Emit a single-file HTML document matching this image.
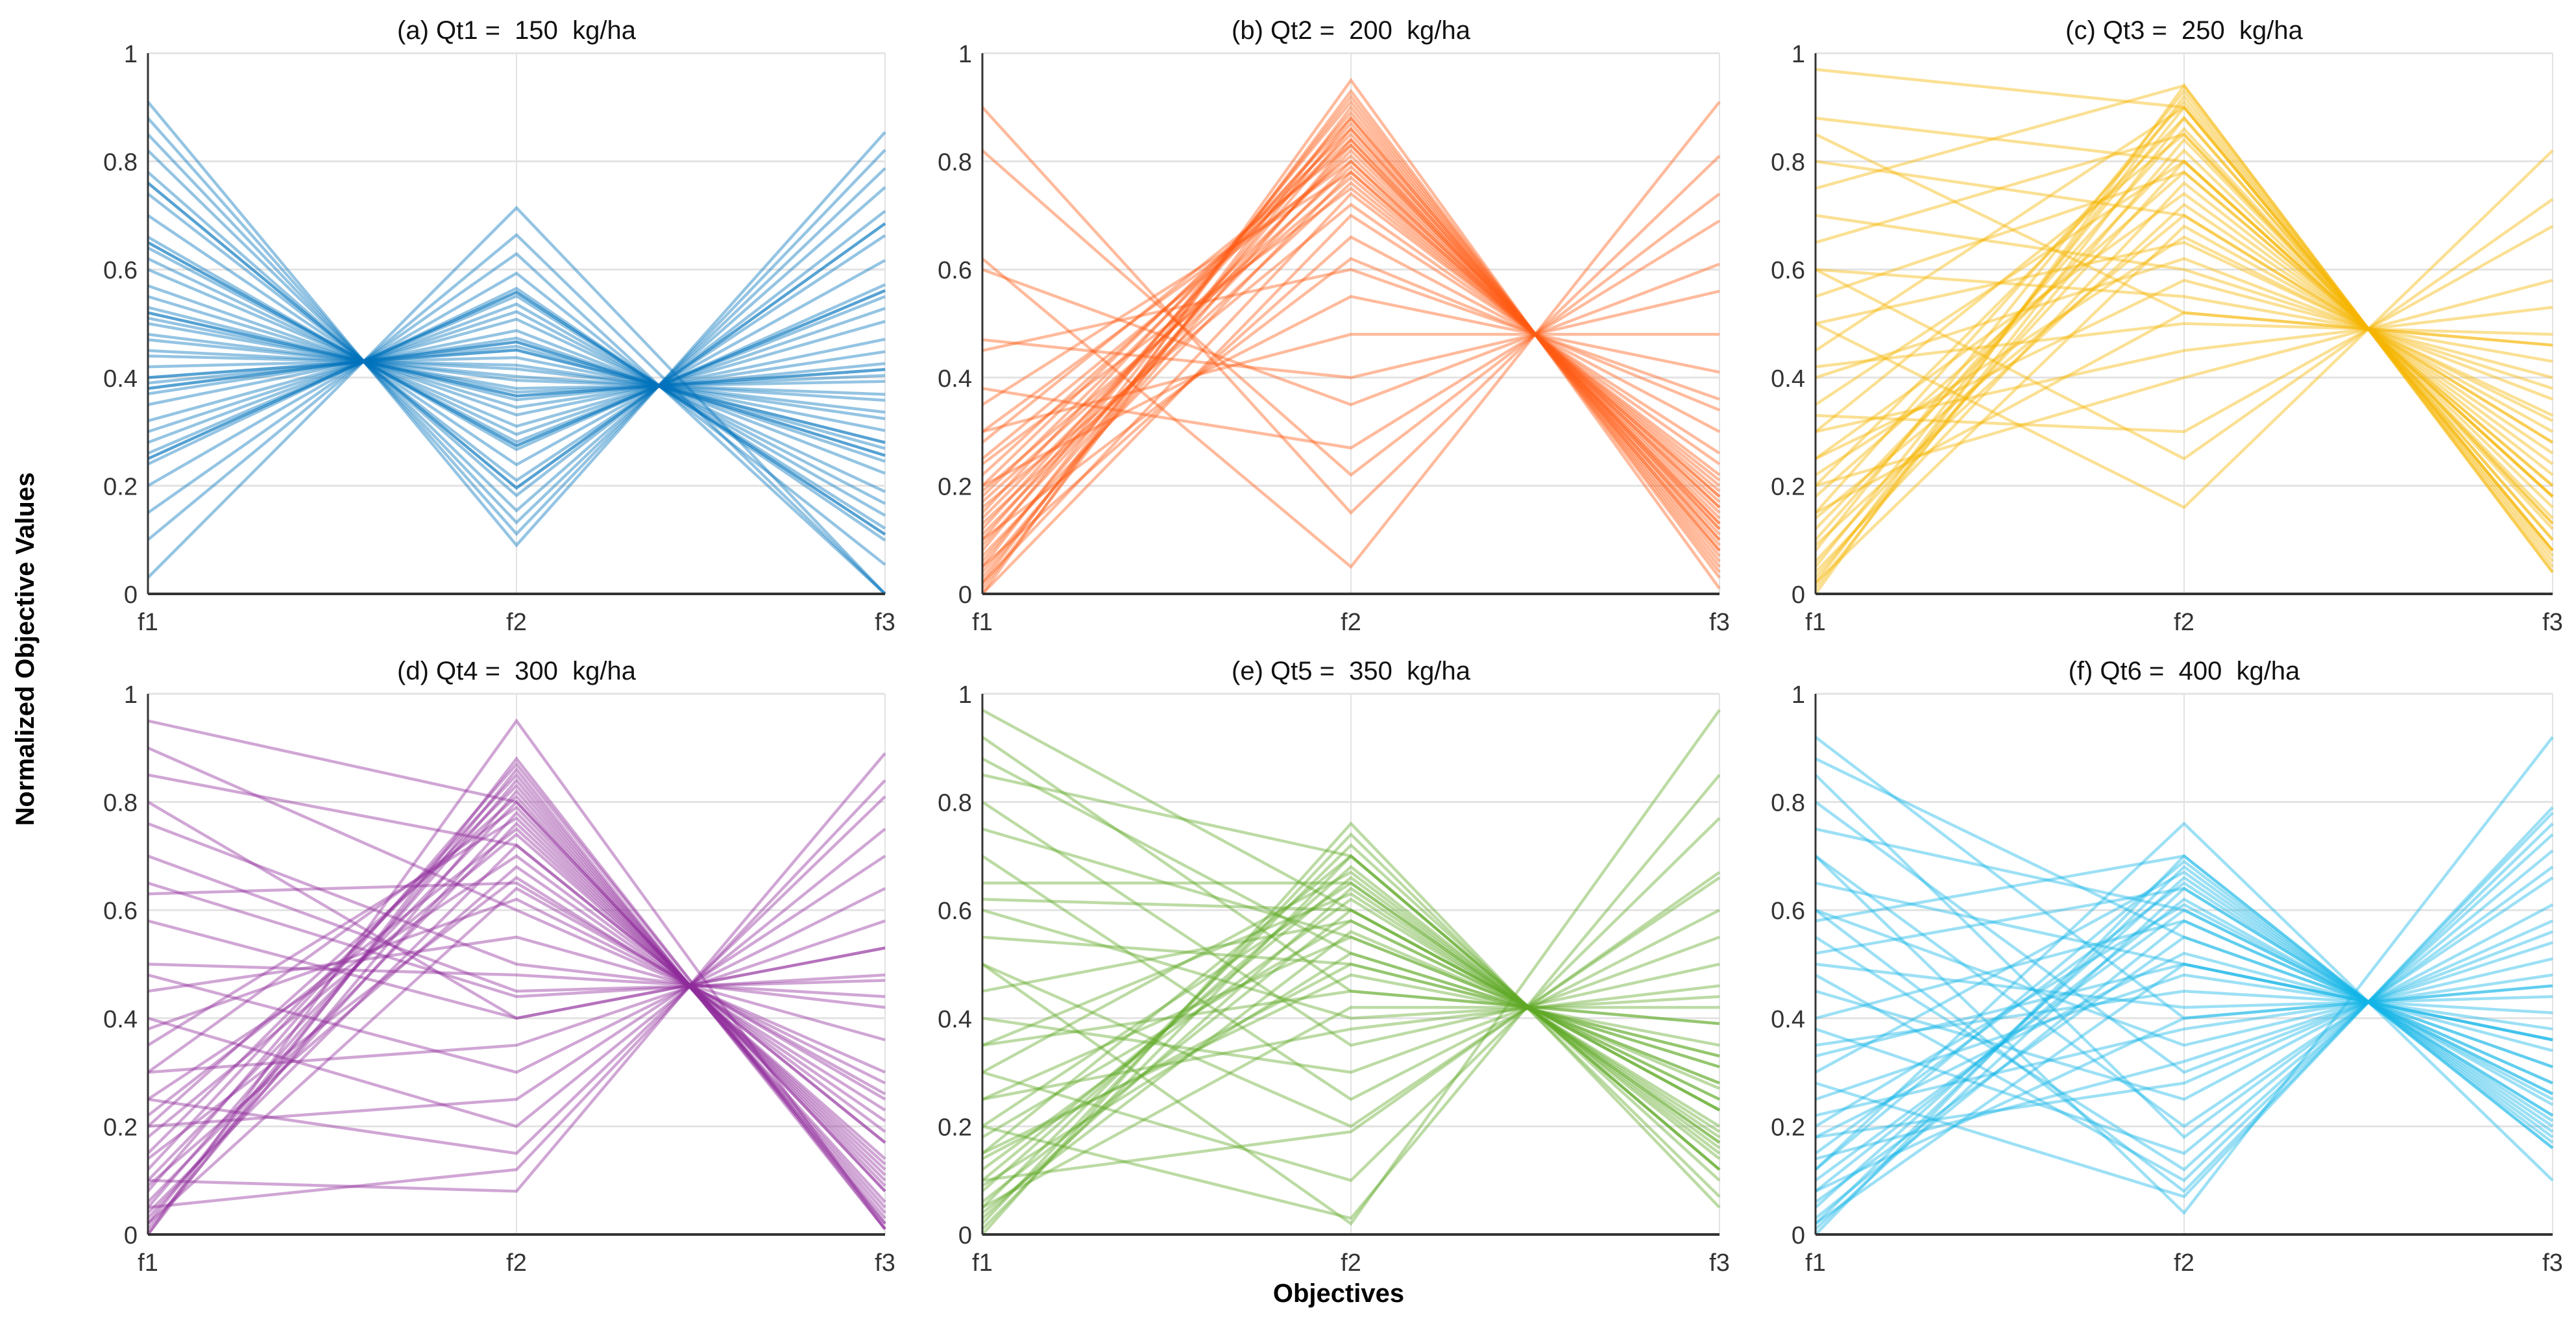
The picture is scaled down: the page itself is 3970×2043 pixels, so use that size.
<!DOCTYPE html>
<html><head><meta charset="utf-8"><style>
html,body{margin:0;padding:0;background:#fff;}
svg{display:block;font-family:"Liberation Sans",sans-serif;}
svg text{white-space:pre;}
</style></head><body>
<svg id="fig" width="3970" height="2043" viewBox="0 0 3970 2043" xmlns="http://www.w3.org/2000/svg" xml:space="preserve">
<rect width="3970" height="2043" fill="#fff"/>
<text transform="translate(52,1000) rotate(-90)" text-anchor="middle" font-size="40" font-weight="bold" fill="#000">Normalized Objective Values</text>
<text x="2063" y="2006" text-anchor="middle" font-size="40" font-weight="bold" fill="#000">Objectives</text>
</svg>
<script>
const yTicks = [0, 0.2, 0.4, 0.6, 0.8, 1];
const yTickLabels = ["0", "0.2", "0.4", "0.6", "0.8", "1"];
const axisLabels = ["f1", "f2", "f3"];
const panelTitles = ["(a) Qt1 =  150  kg/ha","(b) Qt2 =  200  kg/ha","(c) Qt3 =  250  kg/ha","(d) Qt4 =  300  kg/ha","(e) Qt5 =  350  kg/ha","(f) Qt6 =  400  kg/ha"];
const panelColors = ["#0072BD","#FF5A14","#F5B400","#8E2A9A","#5FAA25","#14B4E6"];

const dataA = [
[0.91,0.090,0.854],[0.88,0.111,0.821],[0.85,0.132,0.787],[0.82,0.154,0.752],[0.78,0.182,0.708],[0.76,0.196,0.685],[0.76,0.196,0.685],[0.74,0.210,0.663],[0.70,0.239,0.617],[0.66,0.267,0.572],
[0.65,0.274,0.561],[0.64,0.281,0.550],[0.62,0.295,0.528],[0.60,0.310,0.504],[0.57,0.331,0.471],[0.55,0.345,0.448],[0.53,0.359,0.426],[0.52,0.366,0.415],[0.51,0.373,0.404],[0.50,0.380,0.393],
[0.48,0.395,0.369],[0.47,0.402,0.358],[0.45,0.416,0.336],[0.44,0.423,0.324],[0.42,0.437,0.302],[0.40,0.451,0.280],[0.39,0.458,0.269],[0.38,0.466,0.256],[0.37,0.473,0.245],[0.35,0.487,0.223],
[0.32,0.508,0.189],[0.30,0.522,0.167],[0.28,0.536,0.145],[0.26,0.551,0.121],[0.25,0.558,0.110],[0.24,0.565,0.099],[0.20,0.593,0.054],[0.15,0.629,0.0],[0.10,0.664,0.0],[0.03,0.714,0.0],
[0.52,0.366,0.415],[0.38,0.466,0.256],[0.65,0.274,0.561],[0.40,0.451,0.280],[0.25,0.558,0.110]];
const dataB = [
[0.00,0.95,0.01],[0.02,0.93,0.03],[0.05,0.92,0.04],[0.01,0.90,0.06],[0.08,0.91,0.05],[0.10,0.89,0.07],[0.03,0.88,0.08],[0.12,0.87,0.09],[0.06,0.86,0.10],[0.15,0.88,0.08],
[0.18,0.85,0.11],[0.04,0.84,0.12],[0.09,0.83,0.13],[0.20,0.86,0.10],[0.14,0.82,0.14],[0.22,0.84,0.12],[0.11,0.80,0.16],[0.25,0.81,0.15],[0.07,0.78,0.18],[0.17,0.79,0.17],
[0.28,0.83,0.13],[0.13,0.76,0.20],[0.02,0.74,0.22],[0.19,0.77,0.19],[0.30,0.80,0.16],[0.00,0.70,0.26],[0.16,0.72,0.24],[0.24,0.75,0.21],[0.05,0.66,0.30],[0.35,0.78,0.18],
[0.90,0.15,0.81],[0.62,0.05,0.91],[0.47,0.40,0.56],[0.60,0.35,0.61],[0.45,0.60,0.36],[0.30,0.48,0.48],[0.20,0.55,0.41],[0.82,0.22,0.74],[0.38,0.27,0.69],[0.10,0.62,0.34]];
const dataC = [
[0.00,0.94,0.04],[0.02,0.92,0.06],[0.05,0.90,0.08],[0.01,0.88,0.10],[0.08,0.93,0.05],[0.10,0.86,0.12],[0.03,0.84,0.14],[0.12,0.82,0.16],[0.06,0.80,0.18],[0.15,0.91,0.07],
[0.18,0.78,0.20],[0.04,0.76,0.22],[0.20,0.88,0.10],[0.25,0.74,0.24],[0.09,0.72,0.26],[0.30,0.85,0.13],[0.14,0.70,0.28],[0.35,0.80,0.18],[0.02,0.68,0.30],[0.22,0.66,0.32],
[0.97,0.90,0.08],[0.88,0.80,0.18],[0.80,0.70,0.28],[0.75,0.94,0.04],[0.70,0.60,0.38],[0.65,0.85,0.13],[0.60,0.55,0.43],[0.55,0.78,0.20],[0.50,0.65,0.33],[0.45,0.90,0.08],
[0.42,0.50,0.48],[0.40,0.62,0.36],[0.30,0.45,0.53],[0.33,0.30,0.68],[0.25,0.58,0.40],[0.20,0.40,0.58],[0.50,0.16,0.82],[0.60,0.25,0.73],[0.85,0.52,0.46],[0.15,0.52,0.46]];
const dataD = [
[0.00,0.88,0.01],[0.02,0.86,0.01],[0.05,0.84,0.03],[0.01,0.82,0.05],[0.08,0.87,0.02],[0.10,0.80,0.08],[0.03,0.78,0.10],[0.12,0.85,0.02],[0.06,0.76,0.12],[0.15,0.83,0.04],
[0.18,0.74,0.14],[0.04,0.72,0.17],[0.20,0.81,0.06],[0.25,0.70,0.19],[0.09,0.68,0.21],[0.30,0.79,0.09],[0.14,0.66,0.23],[0.35,0.77,0.11],[0.02,0.64,0.26],[0.22,0.75,0.13],
[0.95,0.80,0.08],[0.90,0.60,0.30],[0.85,0.72,0.17],[0.76,0.50,0.42],[0.70,0.45,0.47],[0.63,0.65,0.25],[0.58,0.40,0.53],[0.50,0.48,0.44],[0.48,0.30,0.64],[0.45,0.55,0.36],
[0.40,0.20,0.75],[0.38,0.62,0.28],[0.30,0.35,0.58],[0.25,0.15,0.81],[0.20,0.25,0.70],[0.10,0.08,0.89],[0.05,0.12,0.84],[0.00,0.95,0.01],[0.65,0.44,0.48],[0.80,0.40,0.53]];
const dataE = [
[0.00,0.76,0.05],[0.02,0.74,0.07],[0.05,0.72,0.10],[0.01,0.70,0.12],[0.08,0.68,0.14],[0.10,0.66,0.16],[0.03,0.64,0.18],[0.12,0.62,0.20],[0.06,0.60,0.23],[0.15,0.70,0.12],
[0.18,0.58,0.25],[0.04,0.56,0.27],[0.20,0.65,0.17],[0.25,0.55,0.28],[0.09,0.52,0.31],[0.30,0.67,0.15],[0.14,0.50,0.33],[0.35,0.63,0.19],
[0.97,0.60,0.23],[0.92,0.45,0.39],[0.85,0.70,0.12],[0.80,0.35,0.50],[0.75,0.55,0.28],[0.70,0.25,0.60],[0.65,0.65,0.17],[0.60,0.40,0.44],[0.55,0.50,0.33],[0.50,0.20,0.66],
[0.45,0.58,0.25],[0.40,0.30,0.55],[0.35,0.45,0.39],[0.30,0.10,0.77],[0.25,0.38,0.46],[0.20,0.03,0.85],[0.15,0.48,0.35],[0.10,0.19,0.67],[0.50,0.02,0.97],[0.62,0.60,0.23],
[0.88,0.52,0.31],[0.05,0.42,0.42]];
const dataF = [
[0.00,0.70,0.16],[0.02,0.68,0.18],[0.05,0.66,0.20],[0.01,0.64,0.22],[0.08,0.62,0.24],[0.10,0.60,0.26],[0.03,0.58,0.28],[0.12,0.69,0.17],[0.06,0.55,0.31],[0.15,0.65,0.21],
[0.18,0.52,0.34],[0.20,0.61,0.25],[0.25,0.48,0.38],[0.30,0.67,0.19],[0.35,0.45,0.41],[0.92,0.40,0.46],[0.88,0.55,0.31],[0.80,0.30,0.56],[0.75,0.60,0.26],[0.70,0.20,0.66],
[0.65,0.50,0.36],[0.60,0.35,0.51],[0.58,0.70,0.16],[0.55,0.12,0.74],[0.50,0.42,0.44],[0.45,0.25,0.61],[0.40,0.58,0.28],[0.38,0.15,0.71],[0.33,0.50,0.36],[0.28,0.07,0.79],
[0.22,0.38,0.48],[0.18,0.28,0.58],[0.12,0.76,0.10],[0.48,0.10,0.76],[0.60,0.08,0.78],[0.85,0.18,0.68],[0.02,0.50,0.36],[0.08,0.40,0.46],[0.14,0.32,0.54],[0.52,0.64,0.22],
[0.70,0.04,0.92]];
const allData = [dataA, dataB, dataC, dataD, dataE, dataF];

const NS = "http://www.w3.org/2000/svg";
const svg = document.getElementById("fig");
const colX = [228, 1514, 2798], rowY = [82, 1069], PW = 1136, PH = 833;
function mk(tag, attrs, parent) {
  const e = document.createElementNS(NS, tag);
  for (const k in attrs) e.setAttribute(k, attrs[k]);
  (parent || svg).appendChild(e);
  return e;
}
allData.forEach((data, p) => {
  const x0 = colX[p % 3], y0 = rowY[Math.floor(p / 3)];
  const xs = i => x0 + i * PW / (axisLabels.length - 1);
  const ys = v => y0 + PH - v * PH;
  const g = mk("g", {});
  
  
  yTicks.forEach((t, i) => {
    const gl = mk("line", {x1: x0, x2: x0 + PW, y1: ys(t), y2: ys(t), stroke: "#e3e3e3", "stroke-width": 3}, g);
    
    
    const tl = mk("text", {x: x0 - 16, y: ys(t) + 14, "text-anchor": "end", "font-size": 38, fill: "#333"}, g);
    tl.textContent = yTickLabels[i];
    
    
  });
  axisLabels.forEach((a, i) => {
    const vl = mk("line", {x1: xs(i), x2: xs(i), y1: y0, y2: y0 + PH, stroke: i === 0 ? "#333" : "#e3e3e3", "stroke-width": i === 0 ? 3 : 2}, g);
    
    
    const xl = mk("text", {x: xs(i), y: y0 + PH + 56, "text-anchor": "middle", "font-size": 38, fill: "#333"}, g);
    xl.textContent = a;
    
    
  });
  data.forEach(row => {
    const pts = row.map((v, i) => xs(i) + "," + ys(v)).join(" ");
    const pl = mk("polyline", {points: pts, fill: "none", stroke: panelColors[p], "stroke-width": 4.5, "stroke-opacity": 0.42}, g);
    
    
  });
  const ax = mk("line", {x1: x0, x2: x0 + PW, y1: y0 + PH, y2: y0 + PH, stroke: "#333", "stroke-width": 4}, g);
  
  
  const lax = mk("line", {x1: x0, x2: x0, y1: y0, y2: y0 + PH, stroke: "#333", "stroke-width": 3}, g);
  
  
  const tt = mk("text", {x: x0 + PW / 2, y: y0 - 22, "text-anchor": "middle", "font-size": 40, fill: "#111"}, g);
  tt.textContent = panelTitles[p];
  
  
});
</script>
</body></html>
